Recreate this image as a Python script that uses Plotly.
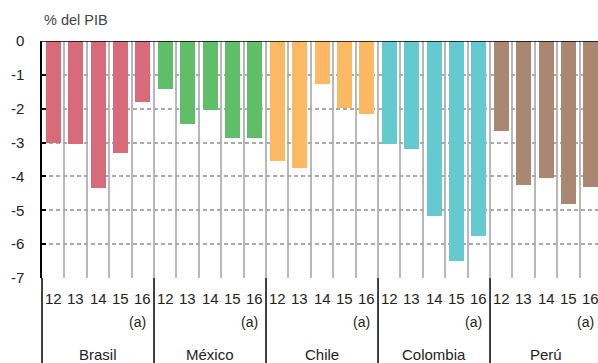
import plotly.graph_objects as go

# Public-sector balance, % of GDP, 2012-2016 (2016 estimated)
countries = ["Brasil", "México", "Chile", "Colombia", "Perú"]
years = ["12", "13", "14", "15", "16"]
brasil = [-3.0, -3.03, -4.33, -3.3, -1.8]
mexico = [-1.42, -2.45, -2.04, -2.86, -2.86]
chile = [-3.54, -3.74, -1.27, -1.98, -2.15]
colombia = [-3.03, -3.18, -5.16, -6.51, -5.77]
peru = [-2.65, -4.24, -4.04, -4.8, -4.3]
colors = ["#d86b79", "#60bd68", "#fdb864", "#65c9d0", "#a98771"]

series = [brasil, mexico, chile, colombia, peru]
FONT = "Liberation Sans, Arial, sans-serif"

fig = go.Figure()
n = len(years)
for gi, (name, vals, col) in enumerate(zip(countries, series, colors)):
    xs = [gi * n + i for i in range(n)]
    fig.add_trace(go.Bar(x=xs, y=vals, name=name, marker_color=col,
                         marker_line_width=0, width=0.67, showlegend=False))

annotations = []
for gi, name in enumerate(countries):
    for i, yr in enumerate(years):
        x = gi * n + i
        annotations.append(dict(x=x, y=0, xref="x", yref="paper", text=yr,
                                showarrow=False, yanchor="middle", yshift=-20,
                                font=dict(size=15, color="#222")))
        if i == n - 1:
            # estimate marker, right-aligned under the last year
            annotations.append(dict(x=x + 0.25, y=0, xref="x", yref="paper", text="(a)",
                                    showarrow=False, xanchor="right", yanchor="middle",
                                    yshift=-44, font=dict(size=14, color="#222")))
    annotations.append(dict(x=gi * n + (n - 1) / 2, y=0, xref="x", yref="paper",
                            text=name, showarrow=False, yanchor="middle", yshift=-76,
                            font=dict(size=15, color="#222")))
annotations.append(dict(x=0, y=1, xref="paper", yref="paper", text="% del PIB",
                        showarrow=False, xanchor="left", yanchor="middle", yshift=21,
                        font=dict(size=14.5, color="#444")))

H, T, B = 363, 41, 85
plot_h = H - T - B
bottom = -B / plot_h

shapes = [dict(type="line", xref="paper", yref="y", x0=0, x1=1, y0=0, y1=0,
               line=dict(color="black", width=1.5)),
          dict(type="line", xref="paper", yref="paper", x0=0, x1=0, y0=0, y1=bottom,
               line=dict(color="black", width=1.5))]
for gi in range(1, len(countries)):
    xb = gi * n - 0.5
    shapes.append(dict(type="line", xref="x", yref="paper", x0=xb, x1=xb,
                       y0=0, y1=bottom, line=dict(color="black", width=1.5)))

fig.update_layout(
    width=598, height=H,
    margin=dict(l=42, r=0, t=T, b=B),
    paper_bgcolor="white", plot_bgcolor="white",
    font=dict(family=FONT, color="#222"),
    bargap=0,
    xaxis=dict(range=[-0.5, 24.32], showticklabels=False, ticks="",
               showgrid=False, zeroline=False, showline=False,
               minor=dict(tick0=0.5, dtick=1, showgrid=True,
                          gridcolor="#b8b8b8", gridwidth=1.5, ticks="")),
    yaxis=dict(range=[-7, 0], tickvals=[0, -1, -2, -3, -4, -5, -6, -7],
               ticktext=["0", "-1", "-2", "-3", "-4", "-5", "-6", "-7"],
               showgrid=True, gridcolor="#aaaaaa", gridwidth=1.5, griddash="4px,3px",
               zeroline=False, showline=True, linecolor="black", linewidth=1.5,
               ticks="inside", ticklen=4, tickcolor="black", tickwidth=1.5,
               ticklabelstandoff=13, tickfont=dict(size=15, color="#222")),
    annotations=annotations,
    shapes=shapes,
)

fig.write_html("out.html")
